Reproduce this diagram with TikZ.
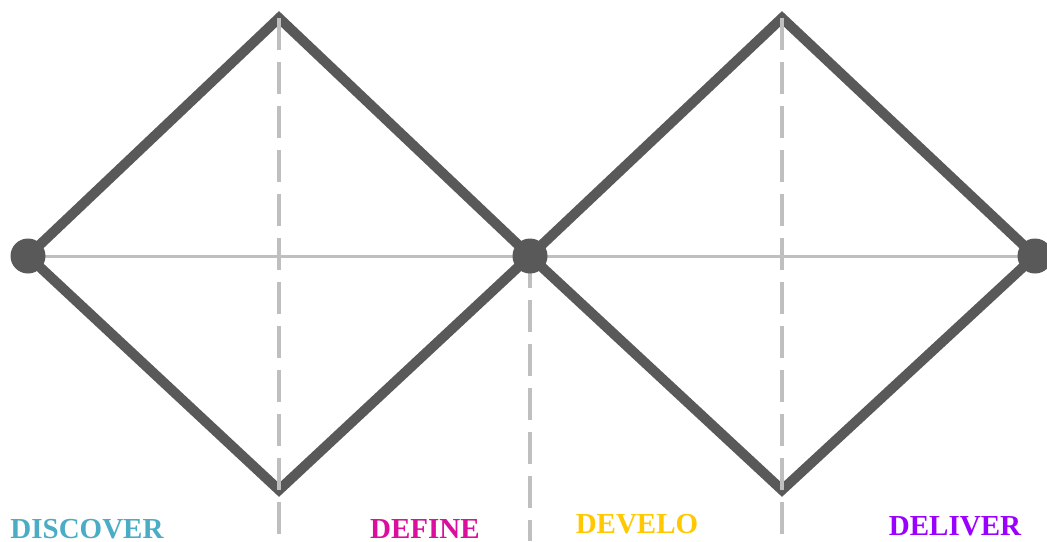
\documentclass[tikz,border=0pt]{standalone}
\usepackage{fontspec}
\setmainfont{Liberation Serif}
\begin{document}
\begin{tikzpicture}[x=1pt,y=-1pt,
  dia/.style={draw=darkg,line width=10pt,line join=miter},
  guide/.style={draw=lightg,line width=3pt},
  dguide/.style={draw=lightg,line width=3.5pt,dash pattern=on 32pt off 12pt},
  dot/.style={circle,fill=darkg,minimum size=35pt,inner sep=0pt},
  lbl/.style={anchor=base,font=\fontsize{29}{30}\selectfont\bfseries}]
\definecolor{darkg}{HTML}{595959}
\definecolor{lightg}{HTML}{BFBFBF}
\definecolor{cdisc}{HTML}{4BACC6}
\definecolor{cdef}{HTML}{DB0F9E}
\definecolor{cdev}{HTML}{FFC800}
\definecolor{cdel}{HTML}{9A00FF}
\useasboundingbox (0,0) rectangle (1047,541);
\coordinate (L) at (28,256);
\coordinate (T1) at (279,18);
\coordinate (M) at (530,256);
\coordinate (B1) at (279,490);
\coordinate (T2) at (782,18);
\coordinate (R) at (1035,256);
\coordinate (B2) at (782,490);
\coordinate (E) at (1047,256);
\coordinate (D1) at (279,541);
\coordinate (D2) at (530,541);
\coordinate (D3) at (782,541);
\draw[dia] (L) -- (T1) -- (M) -- (B1) -- cycle;
\draw[dia] (M) -- (T2) -- (R) -- (B2) -- cycle;
\draw[guide] (L) -- (E);
\draw[dguide] (T1) -- (D1);
\draw[dguide] (M) -- (D2);
\draw[dguide] (T2) -- (D3);
\node[dot] (n1) at (L) {};
\node[dot] (n2) at (M) {};
\node[dot] (n3) at (R) {};
\node[lbl,text=cdisc] (t1) at (87,538) {DISCOVER};
\node[lbl,text=cdef] (t2) at (425,538) {DEFINE};
\node[lbl,text=cdev] (t3) at (637,533) {DEVELO};
\node[lbl,text=cdel] (t4) at (955,535) {DELIVER};
\end{tikzpicture}
\end{document}
